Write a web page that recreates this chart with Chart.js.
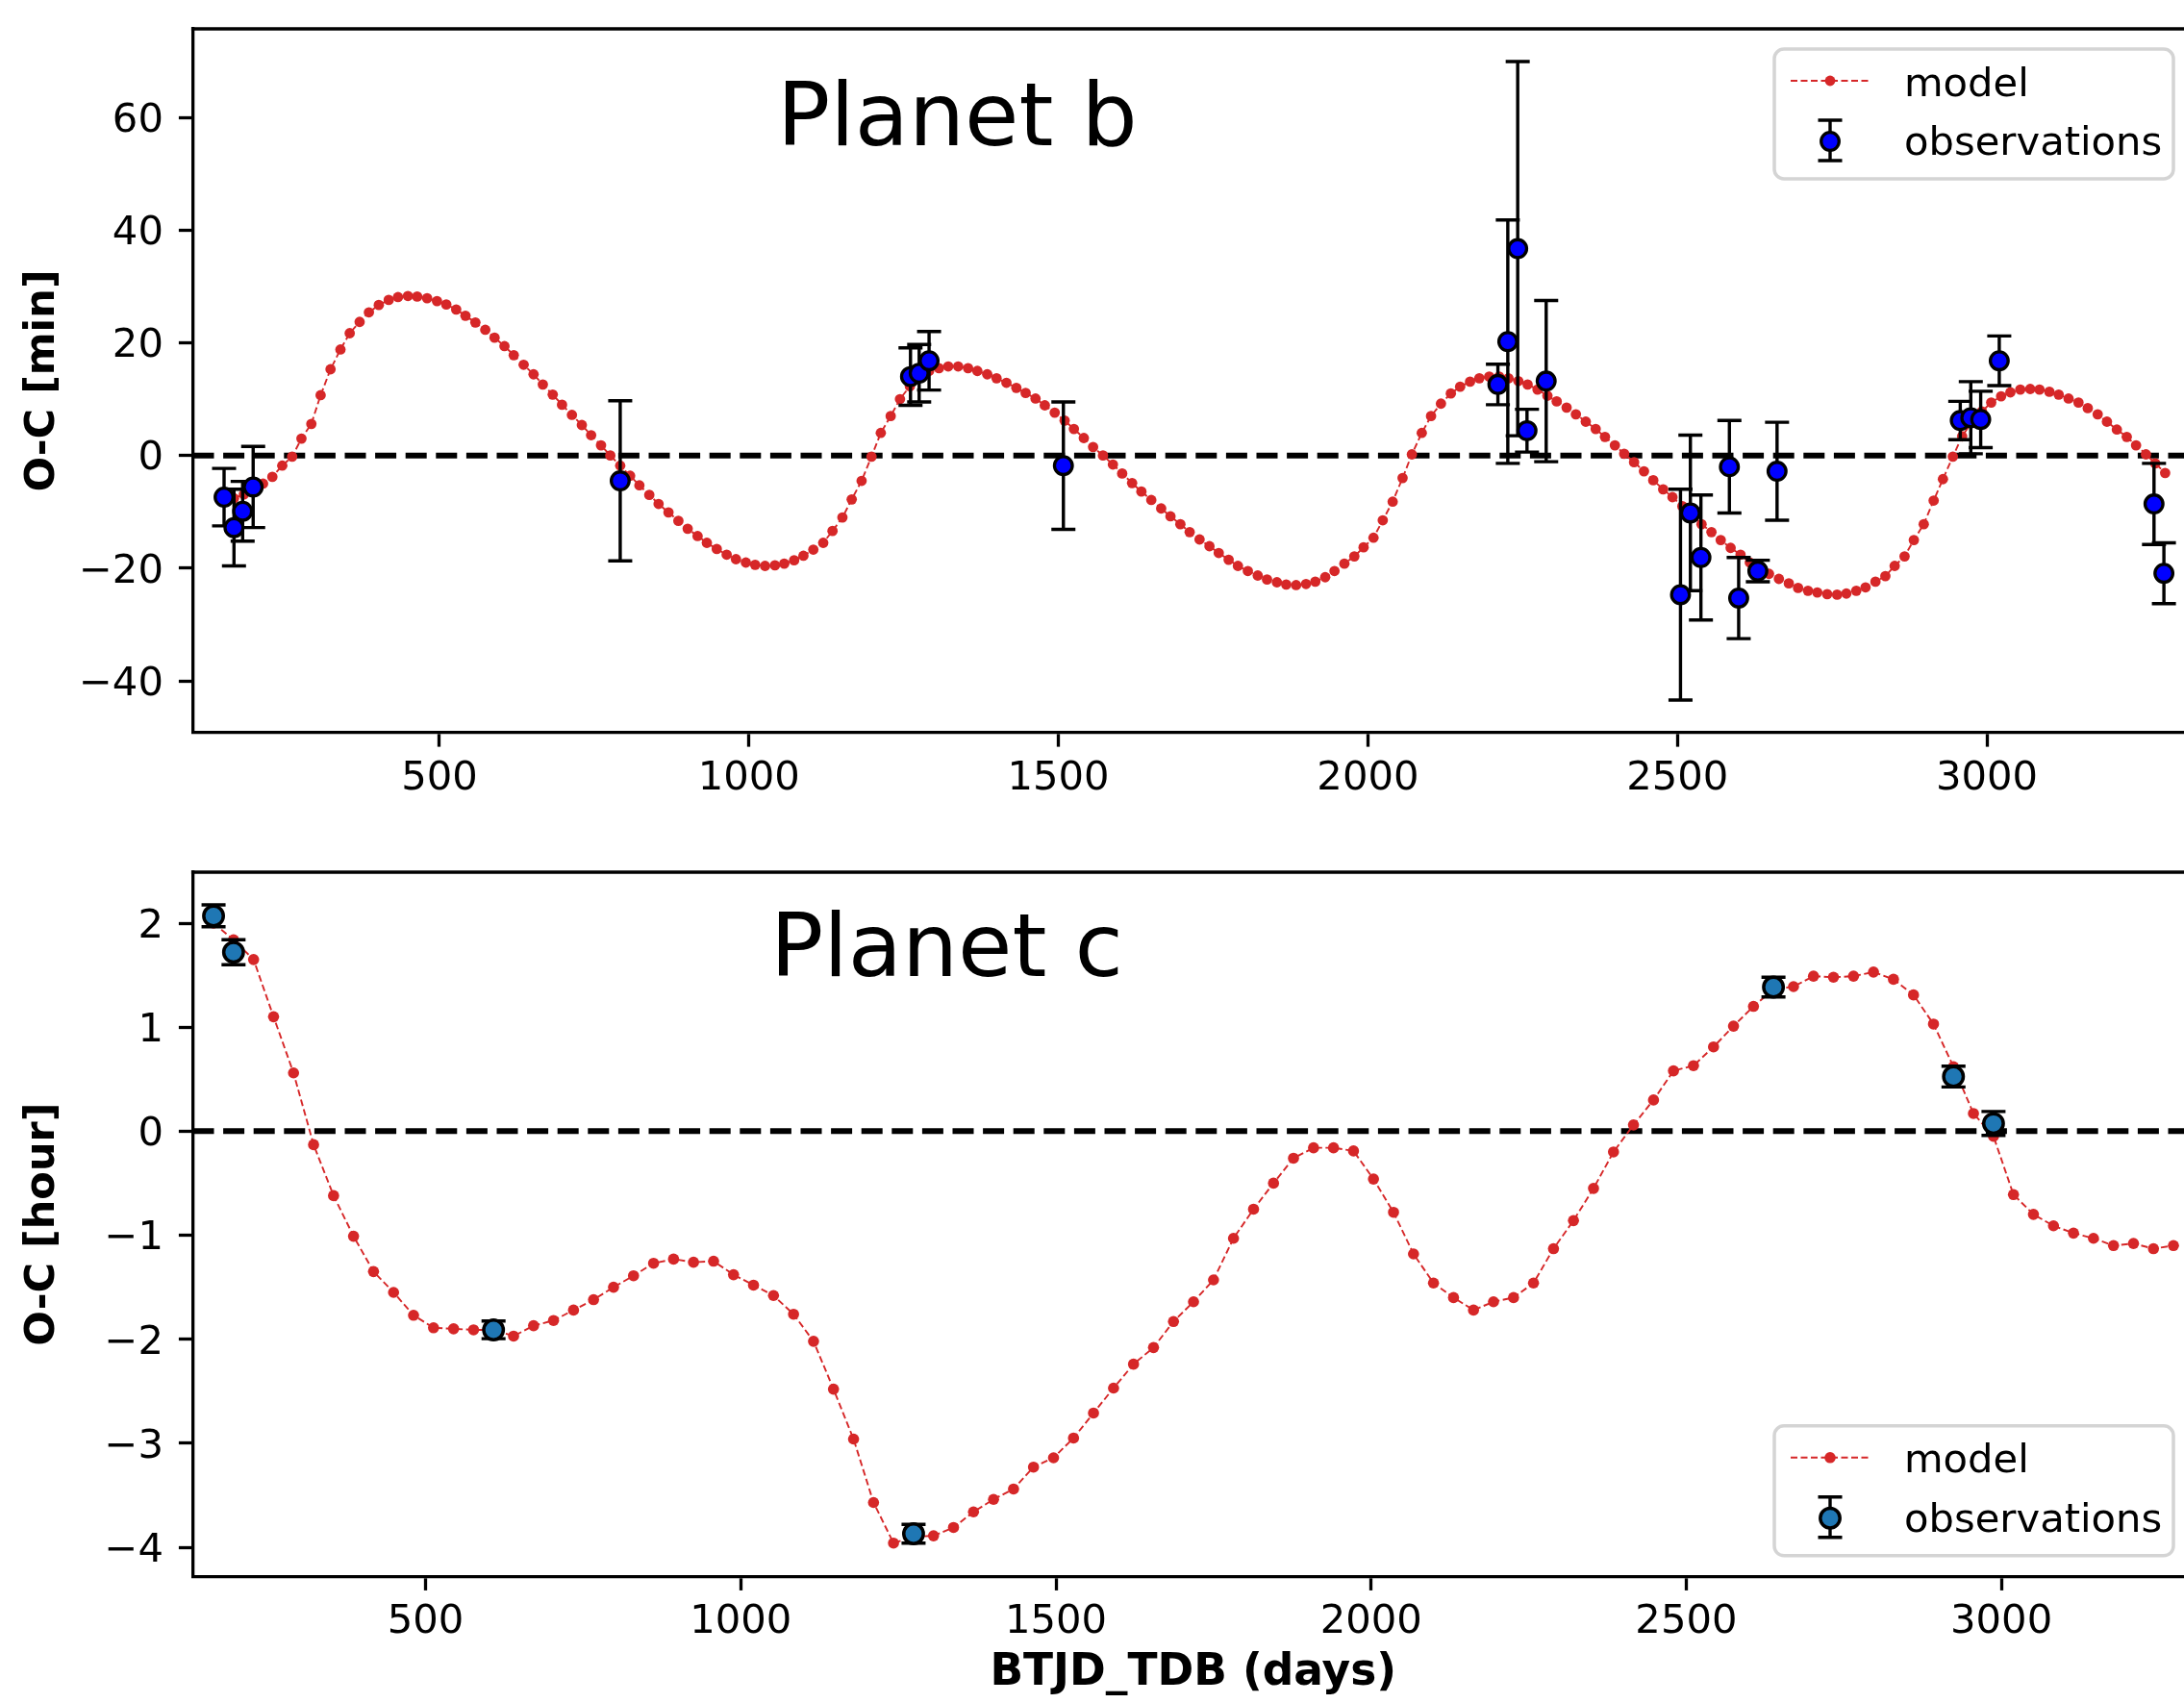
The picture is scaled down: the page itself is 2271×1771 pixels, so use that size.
<!DOCTYPE html>
<html>
<head>
<meta charset="utf-8">
<script src="https://cdn.jsdelivr.net/npm/chart.js@4.4.1/dist/chart.umd.min.js"></script>
<style>
html, body { margin: 0; padding: 0; background: #fff; overflow: hidden; }
#wrap { position: relative; width: 2271px; height: 1771px; overflow: hidden; background: #fff; }
#c1 { position: absolute; left: 0; top: 0; }
#c2 { position: absolute; left: 0; top: 880px; }
</style>
</head>
<body>
<div id="wrap">
  <canvas id="c1" width="2300" height="880"></canvas>
  <canvas id="c2" width="2300" height="891"></canvas>
</div>
<script>
// tick values
const xTicks = [500, 1000, 1500, 2000, 2500, 3000];
const yTicksB = [-40, -20, 0, 20, 40, 60];
const yTicksC = [-4, -3, -2, -1, 0, 1, 2];

// planet b model (transit times, O-C in min)
const modelBx = [152, 168, 184, 199, 215, 230, 246, 262, 277, 293, 308, 324, 340, 355, 371, 386, 402, 418, 433, 449,
  464, 480, 496, 511, 527, 542, 558, 574, 589, 605, 620, 636, 652, 667, 683, 698, 714, 730, 745, 761,
  776, 792, 808, 823, 839, 854, 870, 886, 901, 917, 932, 948, 964, 979, 995, 1010, 1026, 1042, 1057, 1073,
  1088, 1104, 1120, 1135, 1151, 1166, 1182, 1198, 1213, 1229, 1244, 1260, 1276, 1291, 1307, 1322, 1338, 1354, 1369, 1385,
  1400, 1416, 1432, 1447, 1463, 1478, 1494, 1510, 1525, 1541, 1556, 1572, 1588, 1603, 1619, 1634, 1650, 1666, 1681, 1697,
  1712, 1728, 1744, 1759, 1775, 1790, 1806, 1822, 1837, 1853, 1868, 1884, 1900, 1915, 1931, 1946, 1962, 1978, 1993, 2009,
  2024, 2040, 2056, 2071, 2087, 2102, 2118, 2134, 2149, 2165, 2180, 2196, 2212, 2227, 2243, 2258, 2274, 2290, 2305, 2321,
  2336, 2352, 2368, 2383, 2399, 2414, 2430, 2446, 2461, 2477, 2492, 2508, 2524, 2539, 2555, 2570, 2586, 2602, 2617, 2633,
  2648, 2664, 2680, 2695, 2711, 2726, 2742, 2758, 2773, 2789, 2804, 2820, 2836, 2851, 2867, 2882, 2898, 2914, 2929, 2945,
  2960, 2976, 2992, 3007, 3023, 3038, 3054, 3070, 3085, 3101, 3116, 3132, 3148, 3163, 3179, 3194, 3210, 3226, 3241, 3257,
  3272, 3288];
const modelBy = [-8.0, -7.6, -6.9, -6.0, -5.0, -3.8, -1.8, -0.2, 3.0, 5.6,
  10.7, 15.3, 18.8, 21.7, 23.7, 25.4, 26.7, 27.6, 28.1, 28.3,
  28.2, 27.9, 27.4, 26.8, 25.9, 24.8, 23.6, 22.3, 20.9, 19.4,
  17.8, 16.1, 14.4, 12.6, 10.8, 9.0, 7.2, 5.4, 3.6, 1.8,
  0.0, -1.8, -3.6, -5.3, -7.0, -8.6, -10.1, -11.6, -13.0, -14.3,
  -15.5, -16.6, -17.6, -18.4, -19.0, -19.4, -19.6, -19.5, -19.2, -18.6,
  -17.8, -16.7, -15.5, -13.4, -11.0, -7.8, -4.5, -0.2, 4.0, 7.0,
  10.0, 12.3, 14.0, 15.0, 15.5, 15.8, 15.8, 15.5, 15.0, 14.4,
  13.7, 12.9, 12.0, 11.1, 10.1, 8.9, 7.6, 6.2, 4.7, 3.1,
  1.5, 0.0, -1.6, -3.2, -4.9, -6.4, -7.9, -9.4, -10.8, -12.2,
  -13.6, -14.9, -16.1, -17.3, -18.5, -19.6, -20.5, -21.3, -22.0, -22.5,
  -22.9, -23.0, -22.8, -22.4, -21.6, -20.5, -19.2, -17.9, -16.3, -14.6,
  -11.5, -8.2, -4.0, 0.2, 4.0, 7.0, 9.2, 11.0, 12.2, 13.1,
  13.7, 14.0, 14.0, 13.7, 13.2, 12.6, 11.7, 10.6, 9.6, 8.5,
  7.3, 6.0, 4.7, 3.3, 1.8, 0.3, -1.2, -2.8, -4.4, -6.0,
  -7.4, -9.0, -10.6, -12.2, -13.6, -15.0, -16.4, -17.6, -19.0, -20.0,
  -21.0, -21.9, -22.7, -23.5, -24.0, -24.3, -24.6, -24.7, -24.5, -24.0,
  -23.4, -22.4, -21.4, -19.6, -17.9, -15.0, -12.2, -8.0, -4.2, -0.2,
  3.4, 6.0, 7.8, 9.4, 10.5, 11.2, 11.7, 11.8, 11.7, 11.3,
  10.8, 10.1, 9.4, 8.4, 7.3, 6.0, 4.6, 3.3, 1.8, 0.2,
  -1.4, -3.1];

// planet b observations
const obsBx = [152, 168, 182, 199, 792, 1261, 1275, 1291, 1508, 2210, 2226, 2242, 2257, 2288,
  2505, 2521, 2538, 2584, 2599, 2630, 2661, 2957, 2974, 2990, 3020, 3270, 3286];
const obsBy = [-7.4, -12.8, -9.9, -5.6, -4.5, 14.0, 14.6, 16.8, -1.8, 12.6, 20.2, 36.7, 4.4, 13.2,
  -24.7, -10.2, -18.1, -2.0, -25.3, -20.5, -2.8, 6.2, 6.7, 6.4, 16.8, -8.6, -20.9];
const obsBerr = [5.1, 6.8, 5.3, 7.2, 14.2, 5.1, 5.1, 5.2, 11.3, 3.6, 21.6, 33.2, 3.8, 14.3,
  18.7, 13.8, 11.1, 8.2, 7.2, 1.9, 8.7, 3.4, 6.4, 5.0, 4.4, 7.2, 5.4];

// planet c model (O-C in hours)
const modelCx = [163.5, 195.2, 227.0, 258.7, 290.4, 322.2, 353.9, 385.6, 417.3, 449.1,
  480.8, 512.5, 544.3, 576.0, 607.7, 639.5, 671.2, 702.9, 734.6, 766.4,
  798.1, 829.8, 861.6, 893.3, 925.0, 956.8, 988.5, 1020.2, 1051.9, 1083.7,
  1115.4, 1147.1, 1178.9, 1210.6, 1242.3, 1274.1, 1305.8, 1337.5, 1369.2, 1401.0,
  1432.7, 1464.4, 1496.2, 1527.9, 1559.6, 1591.4, 1623.1, 1654.8, 1686.5, 1718.3,
  1750.0, 1781.7, 1813.5, 1845.2, 1876.9, 1908.7, 1940.4, 1972.1, 2003.8, 2035.6,
  2067.3, 2099.0, 2130.8, 2162.5, 2194.2, 2226.0, 2257.7, 2289.4, 2321.1, 2352.9,
  2384.6, 2416.3, 2448.1, 2479.8, 2511.5, 2543.3, 2575.0, 2606.7, 2638.4, 2670.2,
  2701.9, 2733.6, 2765.4, 2797.1, 2828.8, 2860.6, 2892.3, 2924.0, 2955.7, 2987.5,
  3019.2, 3050.9, 3082.7, 3114.4, 3146.1, 3177.9, 3209.6, 3241.3, 3273.0];
const modelCy = [2.00, 1.84, 1.65, 1.10, 0.56, -0.13, -0.62, -1.01, -1.35, -1.55,
  -1.77, -1.89, -1.90, -1.91, -1.91, -1.97, -1.87, -1.82, -1.72, -1.62,
  -1.50, -1.39, -1.27, -1.23, -1.26, -1.25, -1.38, -1.48, -1.58, -1.76,
  -2.02, -2.48, -2.96, -3.57, -3.96, -3.90, -3.89, -3.81, -3.66, -3.54,
  -3.44, -3.23, -3.14, -2.95, -2.71, -2.47, -2.24, -2.08, -1.83, -1.64,
  -1.43, -1.03, -0.75, -0.50, -0.26, -0.16, -0.16, -0.19, -0.46, -0.78,
  -1.18, -1.46, -1.60, -1.72, -1.64, -1.60, -1.46, -1.13, -0.86, -0.55,
  -0.20, 0.06, 0.30, 0.58, 0.63, 0.81, 1.01, 1.20, 1.36, 1.39,
  1.49, 1.48, 1.49, 1.53, 1.46, 1.31, 1.03, 0.62, 0.17, -0.05,
  -0.61, -0.80, -0.91, -0.98, -1.03, -1.10, -1.08, -1.13, -1.10];

// planet c observations
const obsCx = [163.5, 195.2, 607.7, 1274.1, 2638.4, 2924.0, 2987.5];
const obsCy = [2.07, 1.72, -1.91, -3.87, 1.385, 0.525, 0.074];
const obsCerr = [0.105, 0.12, 0.085, 0.09, 0.095, 0.10, 0.115];

const FONT = '"DejaVu Sans"';
const RED = '#d62728';
const TICK_FONT = { family: FONT, size: 41.7 };
const minus = v => String(v).replace('-', '\u2212');
const fixedTicks = list => scale => { scale.ticks = list.map(v => ({ value: v })); };

function roundBox(ctx, x, y, w, h, r) {
  ctx.beginPath();
  ctx.moveTo(x + r, y);
  ctx.lineTo(x + w - r, y);
  ctx.arcTo(x + w, y, x + w, y + r, r);
  ctx.lineTo(x + w, y + h - r);
  ctx.arcTo(x + w, y + h, x + w - r, y + h, r);
  ctx.lineTo(x + r, y + h);
  ctx.arcTo(x, y + h, x, y + h - r, r);
  ctx.lineTo(x, y + r);
  ctx.arcTo(x, y, x + r, y, r);
  ctx.closePath();
}

// zero line, error bars, frame, panel title and legend
function panelPlugin(s) {
  return {
    id: 'panel_' + s.name,
    beforeDatasetsDraw(chart) {
      const { ctx, chartArea: a, scales: { y } } = chart;
      const py = y.getPixelForValue(0);
      ctx.save();
      ctx.strokeStyle = '#000';
      ctx.lineWidth = 6;
      ctx.setLineDash([22, 9.6]);
      ctx.beginPath();
      ctx.moveTo(a.left, py);
      ctx.lineTo(a.right, py);
      ctx.stroke();
      ctx.restore();
    },
    beforeDatasetDraw(chart, args) {
      if (args.index !== 1) return;
      const { ctx, scales: { x, y } } = chart;
      ctx.save();
      ctx.strokeStyle = '#000';
      ctx.lineWidth = 3.4;
      s.ox.forEach((v, i) => {
        const px = x.getPixelForValue(v);
        const t = y.getPixelForValue(s.oy[i] + s.oe[i]);
        const b = y.getPixelForValue(s.oy[i] - s.oe[i]);
        ctx.beginPath();
        ctx.moveTo(px, t); ctx.lineTo(px, b);
        ctx.moveTo(px - 12.5, t); ctx.lineTo(px + 12.5, t);
        ctx.moveTo(px - 12.5, b); ctx.lineTo(px + 12.5, b);
        ctx.stroke();
      });
      ctx.restore();
    },
    afterDraw(chart) {
      const { ctx, chartArea: a } = chart;
      ctx.save();
      // top and right spines
      ctx.strokeStyle = '#000';
      ctx.lineWidth = 3.3;
      ctx.beginPath();
      ctx.moveTo(a.left - 1.6, a.top);
      ctx.lineTo(a.right, a.top);
      ctx.lineTo(a.right, a.bottom);
      ctx.stroke();

      // panel title
      ctx.fillStyle = '#000';
      ctx.font = '91.7px ' + FONT;
      ctx.textBaseline = 'alphabetic';
      ctx.textAlign = 'left';
      ctx.fillText(s.title, a.left + s.tx, a.top + s.ty);

      // legend
      const bw = 415, bh = 135;
      const bx = a.right - 21 - bw;
      const by = s.legendTop ? a.top + 21 : a.bottom - 21.5 - bh;
      roundBox(ctx, bx, by, bw, bh, 10);
      ctx.fillStyle = 'rgba(255,255,255,0.8)';
      ctx.fill();
      ctx.strokeStyle = '#d4d4d4';
      ctx.lineWidth = 3.5;
      ctx.stroke();

      const hx = bx + 58;
      ctx.strokeStyle = RED;
      ctx.lineWidth = 1.9;
      ctx.setLineDash([7, 3.5]);
      ctx.beginPath();
      ctx.moveTo(bx + 17, by + 33);
      ctx.lineTo(bx + 99, by + 33);
      ctx.stroke();
      ctx.setLineDash([]);
      ctx.fillStyle = RED;
      ctx.beginPath();
      ctx.arc(hx, by + 33, s.dotR, 0, Math.PI * 2);
      ctx.fill();

      ctx.strokeStyle = '#000';
      ctx.lineWidth = 3.4;
      ctx.beginPath();
      ctx.moveTo(hx, by + 74); ctx.lineTo(hx, by + 116);
      ctx.moveTo(hx - 12.5, by + 74); ctx.lineTo(hx + 12.5, by + 74);
      ctx.moveTo(hx - 12.5, by + 116); ctx.lineTo(hx + 12.5, by + 116);
      ctx.stroke();
      ctx.beginPath();
      ctx.arc(hx, by + 96, s.obsR, 0, Math.PI * 2);
      ctx.fillStyle = s.obsColor;
      ctx.fill();
      ctx.lineWidth = s.obsBw;
      ctx.stroke();

      ctx.fillStyle = '#000';
      ctx.font = '41.7px ' + FONT;
      ctx.fillText('model', bx + 135, by + 48.5);
      ctx.fillText('observations', bx + 135, by + 109.7);
      ctx.restore();
    }
  };
}

function buildChart(id, s) {
  return new Chart(document.getElementById(id), {
    type: 'scatter',
    data: {
      datasets: [
        {
          label: 'model',
          data: s.mx.map((x, i) => ({ x, y: s.my[i] })),
          showLine: true,
          borderColor: RED,
          borderWidth: 1.9,
          borderDash: [7, 3.5],
          pointRadius: s.dotR,
          pointBackgroundColor: RED,
          pointBorderWidth: 0,
          order: 2
        },
        {
          label: 'observations',
          data: s.ox.map((x, i) => ({ x, y: s.oy[i] })),
          pointRadius: s.obsR,
          pointBackgroundColor: s.obsColor,
          pointBorderColor: '#000',
          pointBorderWidth: s.obsBw,
          order: 1
        }
      ]
    },
    options: {
      responsive: false,
      animation: false,
      devicePixelRatio: 1,
      events: [],
      layout: { padding: { top: s.padTop, left: 0, right: 19, bottom: 0 } },
      plugins: { legend: { display: false }, tooltip: { enabled: false } },
      scales: {
        x: {
          type: 'linear',
          min: s.xmin,
          max: s.xmax,
          afterBuildTicks: fixedTicks(xTicks),
          afterFit: sc => { sc.height = s.xh; sc.paddingLeft = 0; sc.paddingRight = 0; },
          ticks: { font: TICK_FONT, color: '#000', padding: 8.5, maxRotation: 0, autoSkip: false, callback: minus },
          grid: { drawOnChartArea: false, tickLength: 14.6, tickWidth: 3.3, tickColor: '#000' },
          border: { display: true, color: '#000', width: 3.3 },
          title: s.xTitle
            ? { display: true, text: s.xTitle, font: { family: FONT, size: 45.5, weight: 'bold' }, color: '#000', padding: { top: 0, bottom: 4 } }
            : { display: false }
        },
        y: {
          type: 'linear',
          min: s.ymin,
          max: s.ymax,
          afterBuildTicks: fixedTicks(s.yTicks),
          afterFit: sc => { sc.width = 200.5; sc.paddingTop = 0; sc.paddingBottom = 0; },
          ticks: { font: TICK_FONT, color: '#000', padding: 16, labelOffset: 4, autoSkip: false, callback: minus },
          grid: { drawOnChartArea: false, tickLength: 14.6, tickWidth: 3.3, tickColor: '#000' },
          border: { display: true, color: '#000', width: 3.3 },
          title: { display: true, text: s.yTitle, font: { family: FONT, size: 43, weight: 'bold' }, color: '#000', padding: { top: 19, bottom: 0 } }
        }
      }
    },
    plugins: [panelPlugin(s)]
  });
}

buildChart('c1', {
  name: 'b', title: 'Planet b', tx: 607.5, ty: 120.5, legendTop: true,
  mx: modelBx, my: modelBy, ox: obsBx, oy: obsBy, oe: obsBerr,
  xmin: 101.5, xmax: 3334, ymin: -49.2, ymax: 75.7, yTicks: yTicksB,
  yTitle: 'O-C [min]', xTitle: null, padTop: 30, xh: 118,
  dotR: 5.4, obsR: 9.3, obsBw: 3.3, obsColor: '#0000ff'
});

buildChart('c2', {
  name: 'c', title: 'Planet c', tx: 600.5, ty: 107.7, legendTop: false,
  mx: modelCx, my: modelCy, ox: obsCx, oy: obsCy, oe: obsCerr,
  xmin: 130.6, xmax: 3305, ymin: -4.28, ymax: 2.49, yTicks: yTicksC,
  yTitle: 'O-C [hour]', xTitle: 'BTJD_TDB (days)', padTop: 27, xh: 131.7,
  dotR: 5.8, obsR: 10.2, obsBw: 3.5, obsColor: '#1f77b4'
});
</script>
</body>
</html>
